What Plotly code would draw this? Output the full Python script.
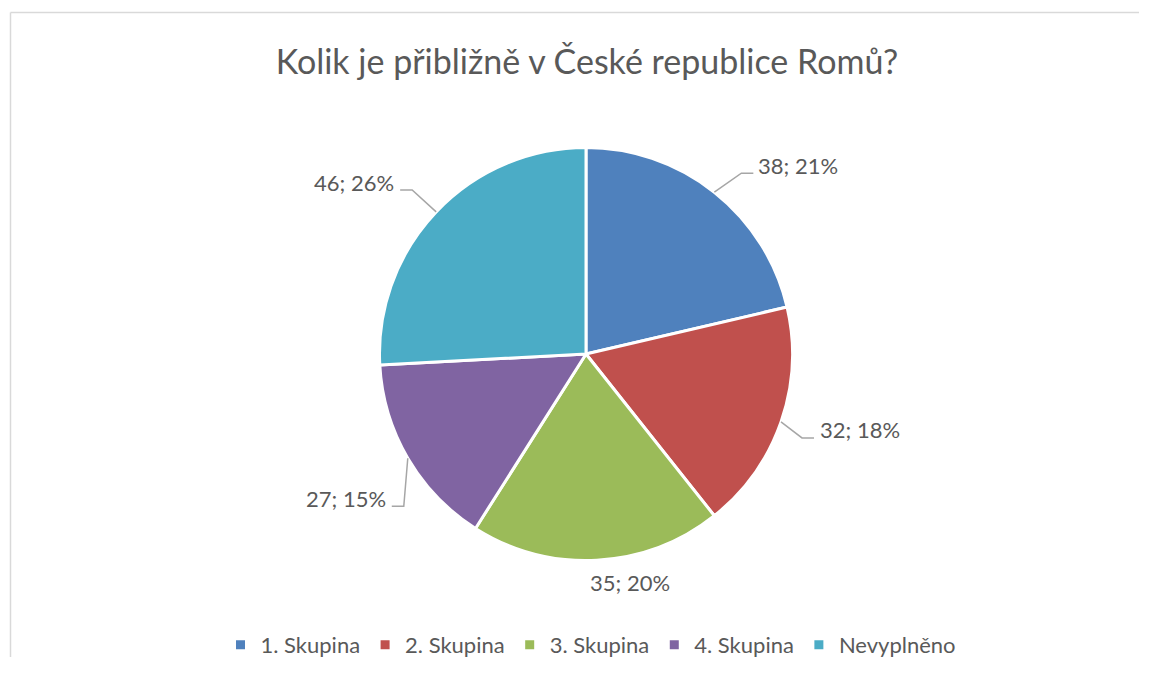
import math
import plotly.graph_objects as go

categories = ["1. Skupina", "2. Skupina", "3. Skupina", "4. Skupina", "Nevyplněno"]
values = [38, 32, 35, 27, 46]
colors = ["#4F81BD", "#C0504D", "#9BBB59", "#8064A2", "#4BACC6"]
title_text = "Kolik je přibližně v České republice Romů?"

OFF = 8                      # page body margin in the browser
W, H = 1151 - 2 * OFF - 4, 677 - 2 * OFF - 12
CX, CY, R = 586, 354, 206.5  # pie centre and radius in window pixels

# per-label leader-line styling (pixel offsets): elbow offset from edge,
# horizontal tail length (signed), text offset from tail end, anchor
label_style = [
    dict(elbow=(27, -19), tail=12, text=(3, -8), anchor="left", leader=True),
    dict(elbow=(21, 16), tail=12, text=(4, -8), anchor="left", leader=True),
    dict(elbow=(33, 22), tail=0, text=(0, 0), anchor="center", leader=False),
    dict(elbow=(-4, 48), tail=-12, text=(-4, -8), anchor="right", leader=True),
    dict(elbow=(-24, -22), tail=-12, text=(-4, -7), anchor="right", leader=True),
]

def fx(x):
    return (x - OFF) / W

def fy(y):
    return (H - (y - OFF)) / H

fig = go.Figure(go.Pie(
    labels=categories,
    values=values,
    sort=False,
    direction="clockwise",
    rotation=0,
    domain=dict(x=[fx(CX - R), fx(CX + R)], y=[fy(CY + R), fy(CY - R)]),
    marker=dict(colors=colors, line=dict(color="white", width=3)),
    textinfo="none",
    hoverinfo="label+value+percent",
))

total = sum(values)
cum = 0
for v, st in zip(values, label_style):
    mid = (cum + v / 2) / total * 2 * math.pi
    cum += v
    ex = CX + R * math.sin(mid)
    ey = CY - R * math.cos(mid)
    bx, by = ex + st["elbow"][0], ey + st["elbow"][1]
    tx, ty = bx + st["tail"], by
    if st["leader"]:
        fig.add_shape(type="path", xref="paper", yref="paper",
                      path=f"M {fx(ex)},{fy(ey)} L {fx(bx)},{fy(by)} L {fx(tx)},{fy(ty)}",
                      line=dict(color="#A6A6A6", width=1.5))
    lx, ly = tx + st["text"][0], ty + st["text"][1]
    fig.add_annotation(
        x=fx(lx), y=fy(ly), xref="paper", yref="paper",
        text=f"{v}; {round(100 * v / total)}%",
        showarrow=False, xanchor=st["anchor"], yanchor="middle",
        font=dict(family="Lato", size=22, color="#595959"),
    )

fig.add_shape(type="line", xref="paper", yref="paper",
              x0=fx(10.5), x1=1, y0=fy(12.5), y1=fy(12.5),
              line=dict(color="#D9D9D9", width=1.5))
fig.add_shape(type="line", xref="paper", yref="paper",
              x0=fx(10.5), x1=fx(10.5), y0=fy(12.5), y1=0,
              line=dict(color="#D9D9D9", width=1.5))

fig.update_layout(
    width=W, height=H,
    margin=dict(l=0, r=0, t=0, b=0, autoexpand=False),
    paper_bgcolor="white",
    plot_bgcolor="white",
    title=dict(text=title_text, x=fx(587), xanchor="center",
               y=fy(62), yanchor="middle", yref="container",
               font=dict(family="Lato", size=34, color="#595959")),
    legend=dict(orientation="h", x=fx(591), xanchor="center",
                y=fy(645), yanchor="middle",
                font=dict(family="Lato", size=22, color="#595959")),
    showlegend=True,
)

fig.write_html("out.html")
